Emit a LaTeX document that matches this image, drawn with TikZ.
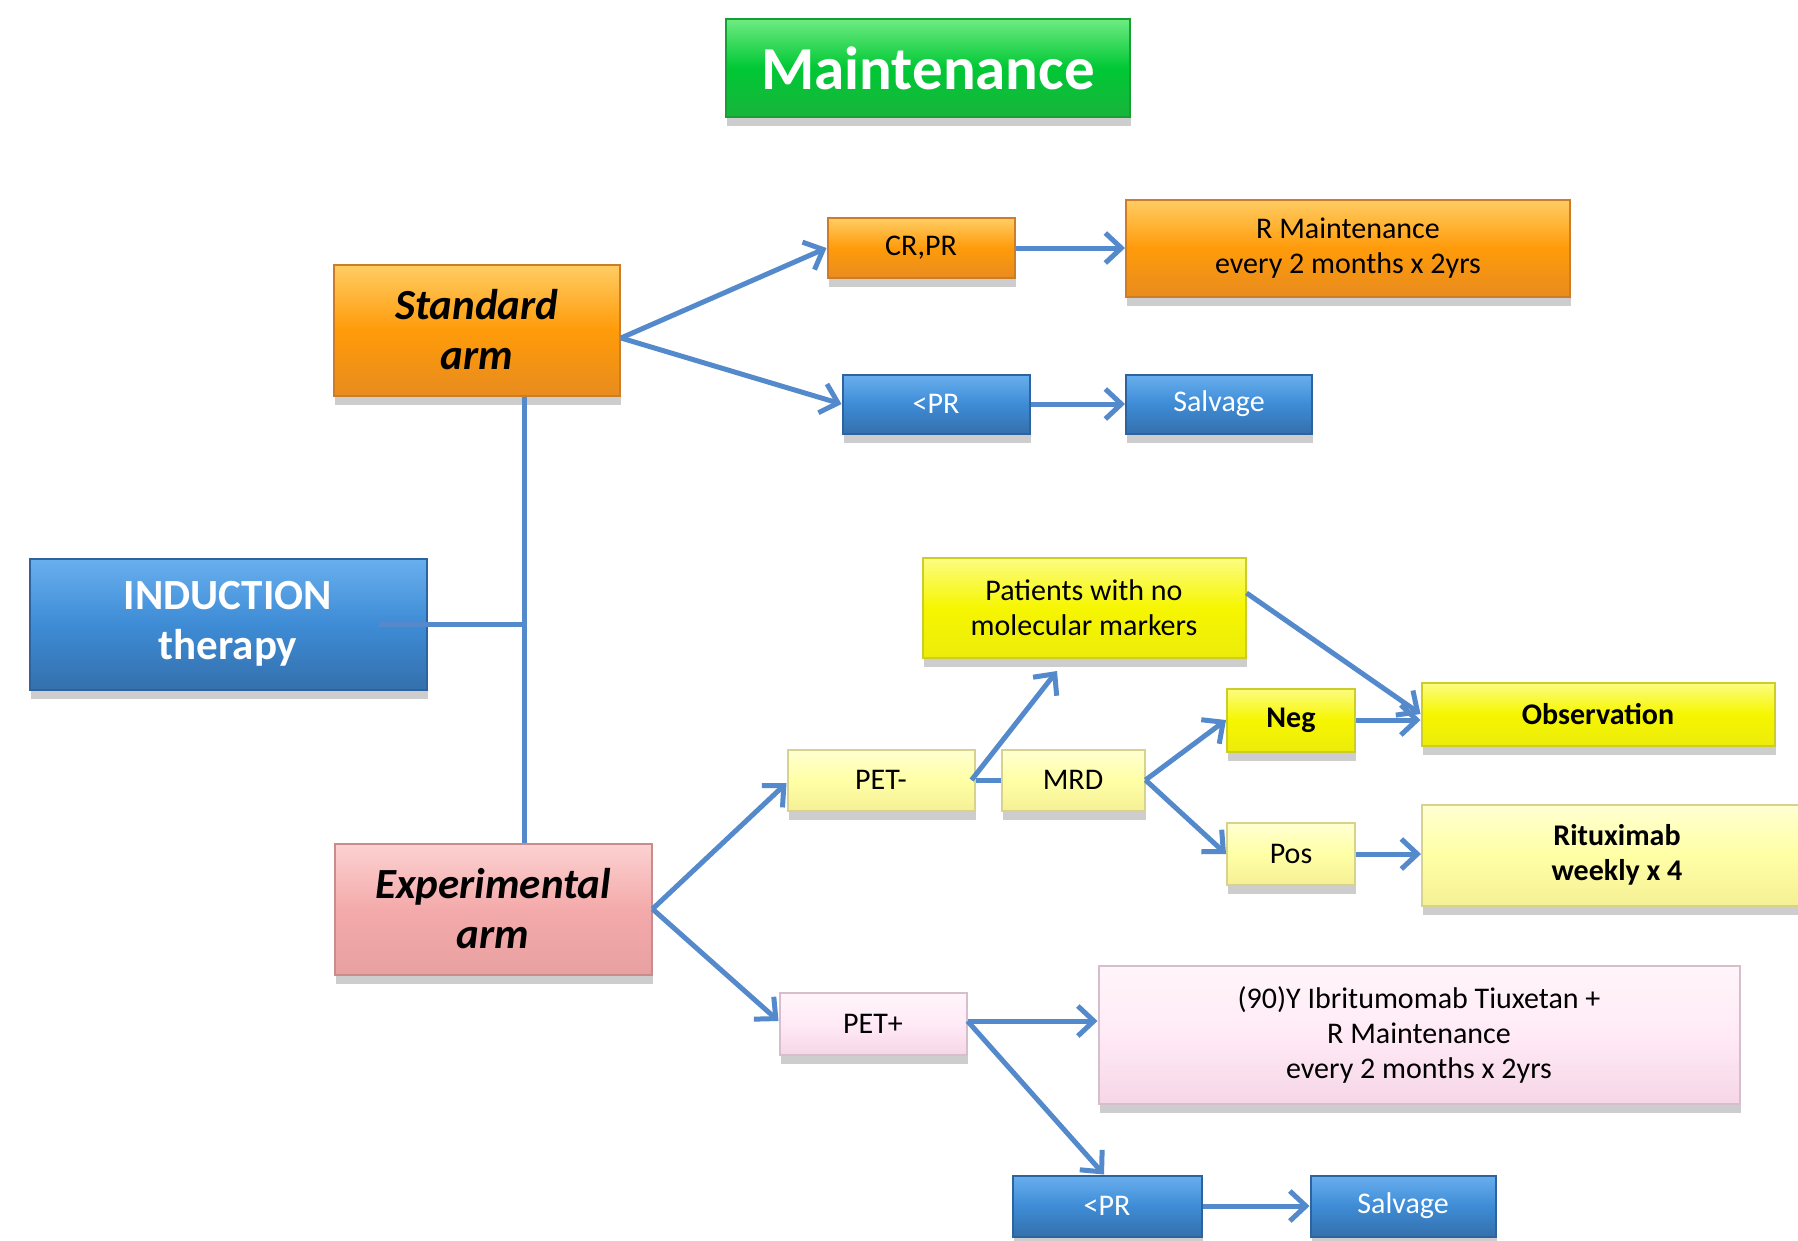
\documentclass[tikz,border=0pt]{standalone}
\usepackage{fontspec}
\setmainfont{Carlito}
\usetikzlibrary{arrows.meta,shadows,calc}
\definecolor{arrowblue}{RGB}{84,138,204}
\definecolor{orT}{RGB}{255,205,100}
\definecolor{orM}{RGB}{255,155,10}
\definecolor{orB}{RGB}{232,140,30}
\definecolor{orD}{RGB}{205,125,40}
\definecolor{blT}{RGB}{105,175,238}
\definecolor{blM}{RGB}{62,140,214}
\definecolor{blB}{RGB}{52,112,172}
\definecolor{blD}{RGB}{45,100,160}
\definecolor{grT}{RGB}{110,235,130}
\definecolor{grM}{RGB}{0,200,52}
\definecolor{grB}{RGB}{25,180,60}
\definecolor{grD}{RGB}{20,160,50}
\definecolor{pkT}{RGB}{252,210,210}
\definecolor{pkM}{RGB}{244,170,170}
\definecolor{pkB}{RGB}{232,160,160}
\definecolor{pkD}{RGB}{200,140,140}
\definecolor{yeT}{RGB}{252,252,130}
\definecolor{yeM}{RGB}{246,246,0}
\definecolor{yeB}{RGB}{236,236,10}
\definecolor{yeD}{RGB}{205,205,40}
\definecolor{pyT}{RGB}{255,255,210}
\definecolor{pyM}{RGB}{255,255,165}
\definecolor{pyB}{RGB}{245,240,150}
\definecolor{pyD}{RGB}{215,210,140}
\definecolor{ppT}{RGB}{255,245,250}
\definecolor{ppM}{RGB}{255,234,246}
\definecolor{ppB}{RGB}{246,214,230}
\definecolor{ppD}{RGB}{215,190,205}
\newcommand\smtxt{\fontsize{30}{35}\selectfont}
\newcommand\bgtxt{\fontsize{43}{50}\selectfont}
\newcommand\tttxt{\fontsize{61}{70}\selectfont}
\tikzset{
  box/.style={rectangle, inner sep=0pt, align=center, line width=2pt,
    drop shadow={shadow xshift=1pt, shadow yshift=-9pt, opacity=0.28, fill=black!70}},
  orangebox/.style={box, draw=orD, top color=orT, bottom color=orB, middle color=orM},
  bluebox/.style={box, draw=blD, top color=blT, bottom color=blB, middle color=blM, text=white},
  greenbox/.style={box, draw=grD, top color=grT, bottom color=grB, middle color=grM, text=white},
  pinkbox/.style={box, draw=pkD, top color=pkT, bottom color=pkB, middle color=pkM},
  yellowbox/.style={box, draw=yeD, top color=yeT, bottom color=yeB, middle color=yeM},
  paleyellow/.style={box, draw=pyD, top color=pyT, bottom color=pyB, middle color=pyM},
  palepink/.style={box, draw=ppD, top color=ppT, bottom color=ppB, middle color=ppM},
  conn/.style={draw=arrowblue, line width=5pt},
  arr/.style={conn, -{Straight Barb[length=16pt,width=30pt,line width=5pt]}},
}
\begin{document}
\begin{tikzpicture}[x=1pt,y=-1pt]
\useasboundingbox (0,0) rectangle (1798,1240);
\fill[white] (0,0) rectangle (1798,1240);

% nodes
\node[greenbox, minimum width=404pt, minimum height=98pt, font=\tttxt\bfseries] (title) at (928,68) {Maintenance};
\node[orangebox, minimum width=286pt, minimum height=131pt, font=\bgtxt\bfseries\itshape] (std) at (477,330) {Standard\\arm};
\node[orangebox, minimum width=187pt, minimum height=60pt, font=\smtxt] (crpr) at (921,248) {CR,PR};
\node[orangebox, minimum width=444pt, minimum height=97pt, font=\smtxt] (rmaint) at (1348,248) {R Maintenance\\every 2 months x 2yrs};
\node[bluebox, minimum width=187pt, minimum height=59pt, font=\smtxt] (lpr1) at (936,404) {<PR};
\node[bluebox, minimum width=186pt, minimum height=59pt, font=\smtxt] (salv1) at (1219,404) {Salvage};
\node[bluebox, minimum width=397pt, minimum height=131pt, font=\bgtxt\bfseries] (ind) at (228,624) {INDUCTION\\therapy};
\node[pinkbox, minimum width=317pt, minimum height=131pt, font=\bgtxt\bfseries\itshape] (exp) at (493,909) {Experimental\\arm};
\node[yellowbox, minimum width=323pt, minimum height=100pt, font=\smtxt] (pat) at (1084,608) {Patients with no\\molecular markers};
\node[paleyellow, minimum width=187pt, minimum height=61pt, font=\smtxt] (petm) at (881,780) {PET-};
\node[paleyellow, minimum width=143pt, minimum height=61pt, font=\smtxt] (mrd) at (1073,780) {MRD};
\node[yellowbox, minimum width=128pt, minimum height=63pt, font=\smtxt\bfseries] (neg) at (1291,720) {Neg};
\node[yellowbox, minimum width=353pt, minimum height=63pt, font=\smtxt\bfseries] (obs) at (1598,714) {Observation};
\node[paleyellow, minimum width=128pt, minimum height=62pt, font=\smtxt] (pos) at (1291,854) {Pos};
\node[paleyellow, minimum width=390pt, minimum height=101pt, font=\smtxt\bfseries] (rit) at (1617,855) {Rituximab\\weekly x 4};
\node[palepink, minimum width=187pt, minimum height=62pt, font=\smtxt] (pp) at (873,1024) {PET+};
\node[palepink, minimum width=641pt, minimum height=138pt, font=\smtxt] (ibr) at (1419,1035) {(90)Y Ibritumomab Tiuxetan +\\R Maintenance\\every 2 months x 2yrs};
\node[bluebox, minimum width=189pt, minimum height=61pt, font=\smtxt] (lpr2) at (1107,1206) {<PR};
\node[bluebox, minimum width=185pt, minimum height=61pt, font=\smtxt] (salv2) at (1403,1206) {Salvage};

% trunk connecting induction to both arms
\coordinate (vtop) at ([xshift=47pt]std.south);
\coordinate (vbot) at (vtop |- exp.north);
\coordinate (hstart) at ([xshift=-49pt]ind.east);
\coordinate (hend) at (hstart -| vtop);
\draw[conn] (vtop) -- (vbot);
\draw[conn] (hstart) -- (hend);

% standard arm
\coordinate (stdout) at ([yshift=-8pt]std.east);
\draw[arr] (stdout) -- (crpr.west);
\draw[arr] (stdout) -- (lpr1.west);
\draw[arr] (crpr) -- (rmaint);
\draw[arr] (lpr1) -- (salv1);

% experimental arm
\draw[arr] (exp.east) -- ([yshift=-3pt]petm.west);
\draw[arr] (exp.east) -- ([yshift=3pt]pp.west);
\coordinate (patend) at (1057,671);
\draw[arr] ([xshift=-4pt]petm.east) -- (patend);
\draw[conn] (petm.east) -- (mrd.west);
\draw[arr] (mrd.east) -- (neg.west);
\draw[arr] (mrd.east) -- (pos.west);
\draw[arr] (neg) -- (neg -| obs.west);
\draw[arr] ([yshift=15pt]pat.east) -- (obs.west);
\draw[arr] (pos) -- (pos -| rit.west);
\draw[arr] ([yshift=3pt]pp.east) -- ([yshift=3pt]pp.east -| ibr.west);
\draw[arr] ([yshift=3pt]pp.east) -- ([xshift=-3pt]lpr2.north);
\draw[arr] (lpr2) -- (salv2);
\end{tikzpicture}
\end{document}
